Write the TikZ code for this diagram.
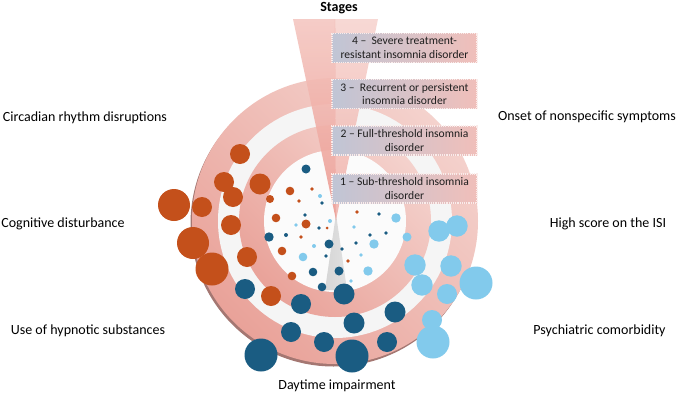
\documentclass[tikz,border=0pt]{standalone}
\usepackage{fontspec}
\setmainfont{Carlito}
\usetikzlibrary{calc}
\definecolor{orangeC}{HTML}{C4501B}
\definecolor{darkB}{HTML}{1A5C82}
\definecolor{lightB}{HTML}{82CAEC}
\definecolor{pinkL}{HTML}{F4D2CD}
\definecolor{pinkD}{HTML}{E9A299}
\definecolor{rimC}{HTML}{A47772}
\definecolor{whiteR}{HTML}{F5F5F5}
\definecolor{boxL}{HTML}{C0C5D5}
\definecolor{boxR}{HTML}{F0BFBA}
\definecolor{txtC}{HTML}{1E1E1E}
\definecolor{funT}{HTML}{F4C7C1}
\definecolor{funB}{HTML}{EC9A91}
\tikzset{
  dotO/.style={fill=orangeC},
  dotD/.style={fill=darkB},
  dotL/.style={fill=lightB},
  lab/.style={font=\fontsize{14}{16}\selectfont, text=black, inner sep=0pt},
  stagebox/.style={left color=boxL, right color=boxR, draw=white!70!boxR, line width=1.1pt,
    dash pattern=on 1.1pt off 1.1pt, minimum width=145pt, minimum height=29pt,
    align=center, inner sep=1pt, text=txtC, font=\fontsize{11.6}{13.5}\selectfont}
}
\begin{document}
\begin{tikzpicture}[x=1pt,y=-1pt]
\useasboundingbox (0,0) rectangle (680,399);
\fill[white] (0,0) rectangle (680,399);
% target
\fill[rimC] (333.5,223.5) circle[radius=143pt];
\shade[top color=pinkL, bottom color=pinkD, shading angle=-45] (335,221) circle[radius=143pt];
\fill[whiteR] (335,221) circle[radius=117pt];
\shade[top color=pinkL, bottom color=pinkD, shading angle=-45] (335,221) circle[radius=96pt];
\fill[white!97!gray] (335,221) circle[radius=71pt];
% reflection
\shade[left color=gray!32, middle color=gray!6, right color=gray!24] (336,214) -- (347,290) -- (325,290) -- cycle;
% funnel
\shade[top color=funT, bottom color=funB, opacity=0.9] (293,19) -- (335,19) -- (336,220) -- cycle;
\shade[top color=funT!85!white, bottom color=funB!85!white, opacity=0.8] (335,19) -- (378,19) -- (336,220) -- cycle;
\draw[funB!70!white, line width=0.4pt] (335,19) -- (336,220);
% dots: orange
\foreach \x/\y/\r in {240/154/10, 224/182/10, 233/197/10, 260/184/10.5, 270/199/4, 174/205/16,
  202/207/10, 231/225/10, 193/243/16, 212/269/16.5, 247/257/10, 271/296/10, 290/191/4.3,
  276/218/4.3, 282/251/4.3, 292/276/4.3, 306/224/4.5, 312/189/1.8, 299/201/1.8, 301/237/1.8,
  327/228/1.5, 357/212/1.8, 348/261/1.8}
  \fill[dotO] (\x,\y) circle[radius=\r pt];
% dots: dark blue
\foreach \x/\y/\r in {306/169/4.5, 245/289/10, 301/304/10, 291/332/10, 324/342/10, 261/355/16.5,
  269/237/4.7, 313/272/4.3, 322/287/4.3, 329/244/4.5, 339/271/4.5, 344/294/10.5, 395/312/10.5,
  354/323/10.5, 387/342/10, 352/356/16.5, 322/203/1.8, 305/215/1.8, 319/228/1.8, 286/235/2,
  326/256/1.8, 342/249/1.8, 379/214/1.8, 370/235/1.8, 386/233/1.8, 356/243/1.8}
  \fill[dotD] (\x,\y) circle[radius=\r pt];
% dots: light blue
\foreach \x/\y/\r in {320/196/2, 296/225/1.8, 330/221/2, 314/246/2, 303/257/4.3, 396/218/4.7,
  407/237/4.5, 439/231/10.7, 457/226/10.7, 374/244/4.7, 415/265/10.7, 451/266/10.7, 422/285/10.7,
  476/283/16.5, 447/294/10, 432/320/10, 433/342/16.5, 368/271/4.7, 354/227/1.8, 361/255/1.8,
  351/281/1.8}
  \fill[dotL] (\x,\y) circle[radius=\r pt];
% stage boxes
\node[stagebox] (s4) at (404.5,48) {4 –\ \ Severe treatment-\\resistant insomnia disorder};
\node[stagebox] (s3) at (404.5,94) {3 –\ \ Recurrent or persistent\\insomnia disorder};
\node[stagebox] (s2) at (404.5,140.5) {2 – Full-threshold insomnia\\disorder};
\node[stagebox] (s1) at (404.5,188.5) {1 – Sub-threshold insomnia\\disorder};
% labels
\node[lab, font=\fontsize{14}{16}\selectfont\bfseries] (stages) at (339,8) {Stages};
\node[lab] (l1) at (85,118) {Circadian rhythm disruptions};
\node[lab] (l2) at (63,224) {Cognitive disturbance};
\node[lab] (l3) at (88,331) {Use of hypnotic substances};
\node[lab] (l4) at (337,386) {Daytime impairment};
\node[lab] (r1) at (587,117) {Onset of nonspecific symptoms};
\node[lab] (r2) at (608,224) {High score on the ISI};
\node[lab] (r3) at (599.5,331) {Psychiatric comorbidity};
\end{tikzpicture}
\end{document}
